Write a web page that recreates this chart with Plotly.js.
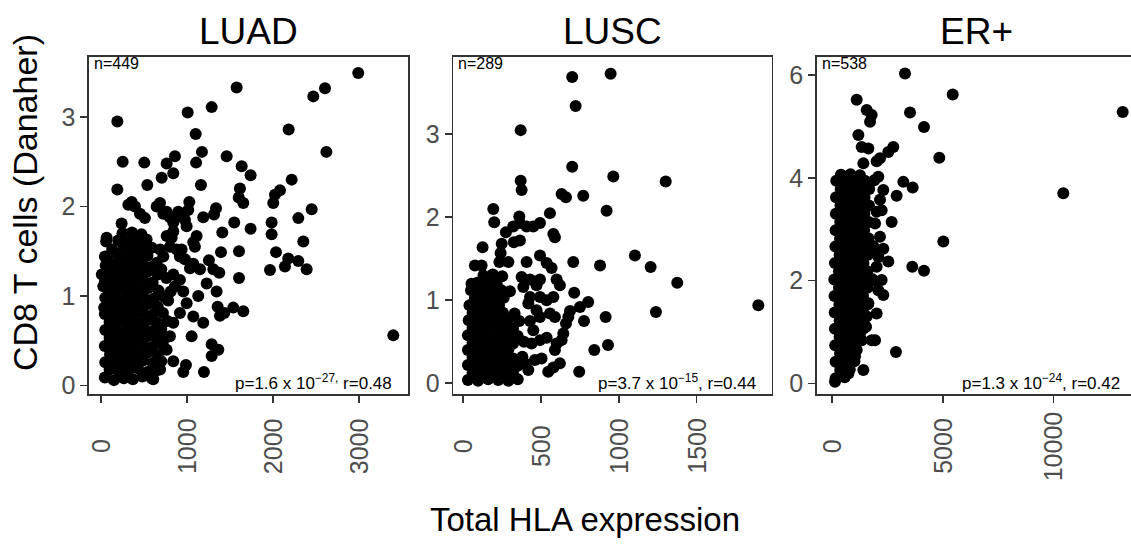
<!DOCTYPE html>
<html>
<head>
<meta charset="utf-8">
<script src="https://cdn.plot.ly/plotly-3.0.1.min.js"></script>
<style>
  html, body { margin: 0; padding: 0; overflow: hidden; background: #fff; }
  #chart { width: 1140px; height: 546px; }
</style>
</head>
<body>
<div id="chart"></div>
<script>
// ---------- data ----------
const panels = ['LUAD', 'LUSC', 'ER+'];
const nLabels = ['n=449', 'n=289', 'n=538'];
const statLabels = [
  'p=1.6 x 10<sup>\u221227,</sup> r=0.48',
  'p=3.7 x 10<sup>\u221215</sup>, r=0.44',
  'p=1.3 x 10<sup>\u221224</sup>, r=0.42'
];
const xTickVals = [[0, 1000, 2000, 3000], [0, 500, 1000, 1500], [0, 5000, 10000]];
const yTickVals = [[0, 1, 2, 3], [0, 1, 2, 3], [0, 2, 4, 6]];
const xTitle = 'Total HLA expression';
const yTitle = 'CD8 T cells (Danaher)';

// LUAD: [Total HLA expression, CD8 T cells]
const luadPoints = [
  [2988,3.49],[2602,3.32],[2466,3.23],[1576,3.33],[1286,3.11],[1007,3.05],[190,2.95],[2180,2.86],
  [1100,2.81],[2618,2.61],[1173,2.61],[252,2.50],[503,2.49],[859,2.56],[763,2.48],[840,2.37],
  [705,2.32],[1105,2.49],[1460,2.56],[1634,2.45],[1738,2.35],[2215,2.30],[2079,2.18],[2021,2.13],
  [538,2.24],[190,2.19],[1161,2.24],[1614,2.20],[1653,2.04],[1600,2.10],[2001,2.04],[2447,1.97],
  [2292,1.87],[1982,1.82],[1982,1.69],[2350,1.61],[2033,1.49],[2175,1.42],[2292,1.39],[2137,1.33],
  [2389,1.30],[1963,1.29],[1603,1.50],[1394,1.49],[1409,1.71],[1548,1.82],[1738,1.75],[1336,1.98],
  [1313,1.91],[1188,1.88],[1603,1.20],[1254,1.40],[1305,1.30],[1374,1.26],[1228,1.14],[1343,1.05],
  [1355,0.88],[1382,0.78],[1537,0.87],[1653,0.83],[1432,0.81],[1286,0.46],[1363,0.40],[1286,0.33],
  [1196,0.15],[3395,0.56],[987,0.23],[956,0.15],[840,0.27],[1053,0.55],[1188,0.70],[1072,0.77],
  [1130,1.00],[995,0.92],[956,1.05],[859,1.11],[840,1.24],[917,1.18],[1034,1.31],[1150,1.30],
  [1072,1.36],[976,1.41],[937,1.52],[1091,1.55],[1111,1.67],[1072,1.60],[995,1.78],[917,1.89],
  [1014,1.96],[976,1.85],[1026,2.05],[898,1.94],[840,1.82],[801,1.88],[763,1.94],[686,2.04],
  [647,2.00],[724,1.92],[840,1.72],[821,1.65],[763,1.67],[801,1.55],[879,1.52],[917,1.44],
  [686,1.52],[647,1.37],[724,1.44],[240,1.81],[357,2.05],[395,2.00],[318,2.02],[453,1.92],
  [511,1.87],[66,1.65],[46,1.44],[10,1.24],[27,1.11],[37,0.87],[607,0.07],[686,0.18],
  [763,0.40],[801,0.55],[840,0.70],[917,0.81],[780,0.95],[810,1.05],[760,1.20],[700,1.30],
  [45,0.09],[150,0.06],[265,0.08],[370,0.07],[480,0.10],[590,0.08],
  [100,0.18],[210,0.16],[320,0.17],[430,0.19],[540,0.15],[650,0.17],
  [50,0.26],[160,0.27],[270,0.25],[380,0.26],[490,0.28],[600,0.25],[700,0.27],
  [105,0.35],[215,0.36],[325,0.34],[435,0.35],[545,0.37],[660,0.34],
  [45,0.44],[155,0.45],[265,0.43],[375,0.44],[485,0.46],[595,0.43],[720,0.45],
  [100,0.53],[210,0.54],[320,0.52],[430,0.53],[540,0.55],[650,0.52],[760,0.54],
  [50,0.62],[160,0.63],[270,0.61],[380,0.62],[490,0.64],[600,0.61],[700,0.63],
  [100,0.71],[210,0.72],[320,0.70],[430,0.71],[540,0.73],[650,0.70],[770,0.72],
  [45,0.80],[155,0.81],[265,0.79],[375,0.80],[485,0.82],[600,0.79],[720,0.81],
  [100,0.89],[210,0.90],[320,0.88],[430,0.89],[545,0.91],[660,0.88],
  [50,0.98],[160,0.99],[270,0.97],[380,0.98],[490,1.00],[610,0.97],[730,0.99],
  [105,1.07],[215,1.08],[325,1.06],[435,1.07],[550,1.09],[670,1.06],
  [45,1.16],[155,1.17],[265,1.15],[375,1.16],[490,1.18],[600,1.15],
  [100,1.25],[210,1.26],[320,1.24],[430,1.25],[540,1.27],[660,1.24],
  [55,1.34],[160,1.35],[270,1.33],[380,1.34],[490,1.36],[600,1.33],
  [80,1.43],[210,1.44],[320,1.42],[430,1.43],[540,1.45],
  [130,1.52],[260,1.53],[370,1.51],[480,1.52],[590,1.54],
  [60,1.61],[200,1.62],[310,1.60],[420,1.61],[530,1.63],
  [250,1.70],[360,1.71],[470,1.69]
];

// LUSC
const luscPoints = [
  [947,3.73],[700,3.69],[722,3.34],[369,3.05],[700,2.61],[964,2.49],[1301,2.43],[369,2.44],
  [375,2.33],[632,2.28],[660,2.24],[771,2.26],[921,2.08],[557,2.05],[193,2.10],[199,1.94],
  [360,2.01],[493,1.93],[450,1.89],[407,1.89],[364,1.93],[321,1.89],[274,1.82],[579,1.80],
  [589,1.76],[364,1.72],[325,1.70],[124,1.64],[247,1.68],[240,1.57],[232,1.46],[290,1.46],
  [493,1.54],[536,1.45],[568,1.39],[1103,1.54],[1204,1.40],[1375,1.21],[1896,0.94],[1238,0.86],
  [707,1.46],[879,1.42],[75,1.42],[118,1.42],[53,1.20],[107,1.16],[375,1.28],[429,1.25],
  [493,1.25],[386,1.16],[471,1.18],[600,1.25],[621,1.18],[407,1.46],[493,1.04],[536,1.00],
  [579,1.04],[557,0.84],[589,0.80],[713,1.09],[803,0.98],[750,0.92],[686,0.87],[675,0.80],
  [776,0.75],[915,0.80],[660,0.72],[643,0.60],[632,0.52],[600,0.48],[589,0.40],[930,0.46],
  [842,0.40],[745,0.14],[621,0.24],[546,0.14],[579,0.19],[503,0.30],[460,0.28],[418,0.16],
  [396,0.24],[439,0.48],[493,0.52],[536,0.55],[450,0.64],[429,0.75],[471,0.88],[418,0.96],
  [429,1.04],[493,0.80],
  [30,0.04],[95,0.03],[160,0.05],[225,0.04],[290,0.03],[350,0.05],
  [60,0.13],[125,0.12],[190,0.14],[255,0.13],[320,0.12],
  [30,0.22],[95,0.23],[160,0.21],[225,0.22],[290,0.23],[350,0.21],
  [60,0.31],[125,0.30],[190,0.32],[255,0.31],[320,0.30],[380,0.32],
  [30,0.40],[95,0.41],[160,0.39],[225,0.40],[290,0.41],
  [60,0.49],[125,0.48],[190,0.50],[255,0.49],[320,0.48],[390,0.50],
  [30,0.58],[95,0.59],[160,0.57],[225,0.58],[290,0.59],[350,0.57],
  [60,0.67],[125,0.66],[190,0.68],[255,0.67],[320,0.66],
  [35,0.76],[95,0.77],[160,0.75],[225,0.76],[290,0.77],[360,0.75],
  [60,0.85],[125,0.84],[190,0.86],[255,0.85],[330,0.84],
  [40,0.94],[100,0.95],[165,0.93],[230,0.94],
  [75,1.03],[140,1.02],[200,1.04],[260,1.03],
  [50,1.12],[115,1.11],[180,1.13],[245,1.12],[300,1.11],
  [90,1.21],[150,1.22],[215,1.20],
  [130,1.30],[190,1.31],[250,1.29]
];

// ER+
const erPoints = [
  [3290,6.03],[5448,5.62],[13140,5.28],[1104,5.52],[3516,5.27],[1557,5.32],[1783,5.22],[1708,5.09],
  [4149,4.99],[1180,4.83],[1330,4.60],[1632,4.57],[1406,4.28],[2760,4.60],[2534,4.50],[2157,4.38],
  [2006,4.32],[4842,4.39],[10452,3.70],[3213,3.92],[3635,3.81],[2911,3.65],[2082,4.02],[2308,3.76],
  [2232,3.37],[2685,3.14],[5023,2.76],[2534,2.37],[2308,2.62],[2157,2.85],[3620,2.27],[4149,2.19],
  [2006,2.27],[2232,2.01],[2308,1.72],[2006,1.36],[1934,0.84],[1482,1.10],[1406,0.26],[2880,0.61],
  [1783,0.84],[1027,0.52],[726,0.19],[122,0.03],[2158,3.57],[2006,3.34],[1934,3.11],[1858,2.60],
  [2082,2.46],[1858,2.00],[2082,1.81],[1632,1.56],[1557,1.30],[1527,1.10],[1330,0.84],[1104,0.65],
  [1255,0.97],
  [150,0.10],[560,0.12],
  [360,0.26],[790,0.27],
  [150,0.42],[580,0.41],[1000,0.43],
  [350,0.58],[780,0.59],
  [130,0.74],[560,0.75],[990,0.73],
  [330,0.90],[760,0.91],[1200,0.89],
  [120,1.06],[550,1.07],[980,1.05],[1400,1.06],
  [330,1.22],[760,1.23],[1190,1.21],
  [110,1.38],[540,1.39],[970,1.37],[1400,1.38],
  [320,1.54],[750,1.55],[1180,1.53],[1610,1.54],
  [100,1.70],[530,1.71],[960,1.69],[1390,1.70],
  [300,1.86],[730,1.87],[1160,1.85],[1590,1.86],
  [90,2.02],[520,2.03],[950,2.01],[1380,2.02],[1800,2.03],
  [300,2.18],[730,2.19],[1160,2.17],[1590,2.18],
  [120,2.34],[550,2.35],[980,2.33],[1410,2.34],
  [330,2.50],[760,2.51],[1190,2.49],[1620,2.50],
  [140,2.66],[570,2.67],[1000,2.65],[1430,2.66],[1850,2.67],
  [350,2.82],[780,2.83],[1210,2.81],[1640,2.82],
  [150,2.98],[580,2.99],[1010,2.97],[1440,2.98],
  [360,3.14],[790,3.15],[1220,3.13],[1650,3.14],
  [160,3.30],[590,3.31],[1020,3.29],[1450,3.30],
  [370,3.46],[800,3.47],[1230,3.45],[1660,3.46],
  [170,3.62],[600,3.63],[1030,3.61],[1460,3.62],
  [380,3.78],[810,3.79],[1240,3.77],[1670,3.78],
  [180,3.94],[610,3.95],[1040,3.93],[1470,3.94],[1900,3.95],
  [390,4.06],[820,4.07],[1250,4.05]
];

// ---------- layout ----------
const W = 1140, H = 546;
const FONT = '"Liberation Sans", Arial, Helvetica, sans-serif';
const fx = p => p / W;
const fy = p => 1 - p / H;
const xDomPx = [[89, 408], [453.3, 771.7], [816.7, 1136]];
const yDomPx = [394, 57];
const xRanges = [[-139, 3566], [-64, 1982], [-706, 13742]];
const yRanges = [[-0.095, 3.67], [-0.129, 3.931], [-0.208, 6.35]];

const allPoints = [luadPoints, luscPoints, erPoints];
const traces = allPoints.map((pts, i) => ({
  type: 'scatter', mode: 'markers',
  x: pts.map(p => p[0]), y: pts.map(p => p[1]),
  xaxis: 'x' + (i ? i + 1 : ''), yaxis: 'y' + (i ? i + 1 : ''),
  marker: { color: '#000', size: 12, line: { width: 0 } },
  hoverinfo: 'skip', showlegend: false
}));

const layout = {
  width: W, height: H,
  margin: { l: 0, r: 0, t: 0, b: 0 },
  paper_bgcolor: '#fff', plot_bgcolor: '#fff',
  font: { family: FONT, color: '#000' },
  showlegend: false,
  annotations: []
};

const axisCommon = {
  showgrid: false, zeroline: false, showline: true, mirror: true,
  linecolor: '#333333', linewidth: 1.6,
  ticks: 'outside', ticklen: 7, tickwidth: 1.6, tickcolor: '#333333',
  fixedrange: true
};

panels.forEach((name, i) => {
  const sfx = i ? String(i + 1) : '';
  layout['xaxis' + sfx] = Object.assign({}, axisCommon, {
    domain: [fx(xDomPx[i][0]), fx(xDomPx[i][1])],
    range: xRanges[i], anchor: 'y' + sfx,
    tickmode: 'array', tickvals: xTickVals[i], showticklabels: false
  });
  layout['yaxis' + sfx] = Object.assign({}, axisCommon, {
    domain: [fy(yDomPx[0]), fy(yDomPx[1])],
    range: yRanges[i], anchor: 'x' + sfx,
    tickmode: 'array', tickvals: yTickVals[i],
    tickfont: { family: FONT, size: 25, color: '#4D4D4D' }
  });
  // rotated, centred x tick labels
  xTickVals[i].forEach(v => {
    layout.annotations.push({
      xref: 'x' + sfx, yref: 'paper', x: v, y: fy(446),
      text: String(v), textangle: -90, showarrow: false,
      xanchor: 'center', yanchor: 'middle',
      font: { family: FONT, size: 25, color: '#4D4D4D' }
    });
  });
  // panel (strip) title
  layout.annotations.push({
    xref: 'paper', yref: 'paper',
    x: fx((xDomPx[i][0] + xDomPx[i][1]) / 2), y: fy(31),
    text: name, showarrow: false, xanchor: 'center', yanchor: 'middle',
    font: { family: FONT, size: 37, color: '#000' }
  });
  // n label
  layout.annotations.push({
    xref: 'paper', yref: 'paper',
    x: fx(xDomPx[i][0] + 3), y: fy(63),
    text: nLabels[i], showarrow: false, xanchor: 'left', yanchor: 'middle',
    font: { family: FONT, size: 16, color: '#000' }
  });
  // p / r label
  layout.annotations.push({
    xref: 'paper', yref: 'paper',
    x: fx(xDomPx[i][1] - 14), y: fy(382),
    text: statLabels[i], showarrow: false, xanchor: 'right', yanchor: 'middle',
    font: { family: FONT, size: 17, color: '#000' }
  });
});

// shared axis titles
layout.annotations.push({
  xref: 'paper', yref: 'paper', x: fx(585), y: fy(519),
  text: xTitle, showarrow: false, xanchor: 'center', yanchor: 'middle',
  font: { family: FONT, size: 33, color: '#000' }
});
layout.annotations.push({
  xref: 'paper', yref: 'paper', x: fx(25), y: fy(203),
  text: yTitle, textangle: -90, showarrow: false, xanchor: 'center', yanchor: 'middle',
  font: { family: FONT, size: 34, color: '#000' }
});

Plotly.newPlot('chart', traces, layout, { displayModeBar: false, staticPlot: true });
</script>
</body>
</html>
